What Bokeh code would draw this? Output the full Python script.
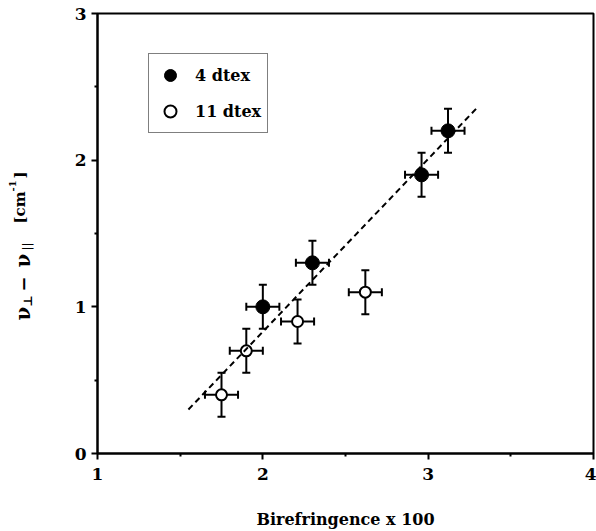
import numpy as np
from bokeh.plotting import figure
from bokeh.layouts import row
from bokeh.models import (Range1d, FixedTicker, Whisker, TeeHead, ColumnDataSource,
                          Label, Legend, LegendItem)
from bokeh.embed import file_html
from bokeh.resources import INLINE

# ---- data ----
x_4dtex = [2.00, 2.30, 2.96, 3.12]
y_4dtex = [1.00, 1.30, 1.90, 2.20]
xerr_4dtex = [0.10, 0.10, 0.10, 0.10]
yerr_4dtex = [0.15, 0.15, 0.15, 0.15]

x_11dtex = [1.75, 1.90, 2.21, 2.62]
y_11dtex = [0.40, 0.70, 0.90, 1.10]
xerr_11dtex = [0.10, 0.10, 0.10, 0.10]
yerr_11dtex = [0.15, 0.15, 0.15, 0.15]

fit_x = [1.55, 3.29]
fit_y = [0.30, 2.35]

x_ticks = [1, 2, 3, 4]
x_minor = [1.5, 2.5, 3.5]
y_ticks = [0, 1, 2, 3]
y_minor = [0.5, 1.5, 2.5]

FONT = "DejaVu Serif"
W, H = 596, 531
LW = 60  # width of the strip that carries the rotated y-axis title
FB = 453  # frame bottom (canvas px)

p = figure(width=W - LW, height=H, x_range=Range1d(1, 4), y_range=Range1d(0, 3),
           output_backend="svg", toolbar_location=None,
           min_border_left=97 - LW, min_border_right=3, min_border_top=13, min_border_bottom=H - FB)
p.grid.visible = False
p.outline_line_color = "black"
p.outline_line_width = 2
p.background_fill_color = "white"
p.border_fill_color = "white"

p.xaxis.ticker = FixedTicker(ticks=x_ticks, minor_ticks=x_minor)
p.yaxis.ticker = FixedTicker(ticks=y_ticks, minor_ticks=y_minor)
for ax in (p.xaxis, p.yaxis):
    ax.axis_line_width = 2
    ax.axis_line_color = "black"
    ax.major_tick_line_width = 2
    ax.major_tick_line_color = "black"
    ax.minor_tick_line_width = 2
    ax.minor_tick_line_color = "black"
    ax.major_tick_in = 0
    ax.major_tick_out = 6
    ax.minor_tick_in = 0
    ax.minor_tick_out = 3
    ax.major_label_text_font = FONT
    ax.major_label_text_font_style = "bold"
    ax.major_label_text_font_size = "17px"
    ax.major_label_text_color = "black"
p.xaxis.major_label_standoff = 8
p.yaxis.major_label_standoff = 5

p.xaxis.axis_label = "Birefringence x 100"
p.xaxis.axis_label_text_font = FONT
p.xaxis.axis_label_text_font_style = "bold"
p.xaxis.axis_label_text_font_size = "16px"
p.xaxis.axis_label_text_color = "black"
p.xaxis.axis_label_standoff = 27

# ---- error bars ----
def add_errors(xs, ys, xe, ye):
    src = ColumnDataSource(dict(
        x=xs, y=ys,
        yl=[y - e for y, e in zip(ys, ye)], yu=[y + e for y, e in zip(ys, ye)],
        xl=[x - e for x, e in zip(xs, xe)], xu=[x + e for x, e in zip(xs, xe)]))
    for dim, base, lo, up in (("height", "x", "yl", "yu"), ("width", "y", "xl", "xu")):
        w = Whisker(base=base, lower=lo, upper=up, dimension=dim, source=src,
                    line_width=2, line_color="black",
                    lower_head=TeeHead(size=8, line_width=2, line_color="black"),
                    upper_head=TeeHead(size=8, line_width=2, line_color="black"))
        p.add_layout(w)

add_errors(x_4dtex, y_4dtex, xerr_4dtex, yerr_4dtex)
add_errors(x_11dtex, y_11dtex, xerr_11dtex, yerr_11dtex)

r4 = p.scatter(x_4dtex, y_4dtex, size=14, marker="circle", fill_color="black", line_color="black")
r11 = p.scatter(x_11dtex, y_11dtex, size=11, marker="circle", fill_color="white",
                line_color="black", line_width=2)

p.line(fit_x, fit_y, line_dash="6 4", line_width=2, line_color="black")

legend = Legend(items=[LegendItem(label="4 dtex", renderers=[r4]),
                       LegendItem(label="11 dtex", renderers=[r11])],
                location=(51, 320), glyph_width=30, glyph_height=30, label_height=30,
                padding=6, spacing=6, label_standoff=10, margin=0,
                label_text_font=FONT, label_text_font_style="bold",
                label_text_font_size="16px", label_text_color="black",
                border_line_color="black", border_line_width=1.5,
                background_fill_color="white", background_fill_alpha=1)
p.add_layout(legend)

# ---- left strip with the rotated y-axis title (sub/superscripts as separate texts) ----
t = figure(width=LW, height=H, x_range=Range1d(0, 1), y_range=Range1d(0, 1),
           output_backend="svg", toolbar_location=None,
           x_axis_type=None, y_axis_type=None,
           min_border_left=0, min_border_right=0, min_border_top=0, min_border_bottom=0)
t.grid.visible = False
t.outline_line_color = None
t.background_fill_color = "white"
t.border_fill_color = "white"

def ylab(text, cx, cy, size):
    t.add_layout(Label(x=cx, y=FB - cy, x_units="screen", y_units="screen",
                       text=text, angle=np.pi / 2, text_font=FONT, text_font_style="bold",
                       text_font_size=f"{size}px", text_baseline="alphabetic",
                       text_align="left", text_color="black"))

ylab("ν", 22, 320, 20)
ylab("⊥", 27, 306, 12)
ylab("−", 22, 291, 18)
ylab("ν", 22, 267, 20)
ylab("||", 27, 250, 11)
ylab("[cm", 19, 223, 15)
ylab("-1", 12, 191, 10)
ylab("]", 19, 178, 15)

layout = row(t, p, spacing=0)
open("out.html", "w").write(file_html(layout, INLINE))
